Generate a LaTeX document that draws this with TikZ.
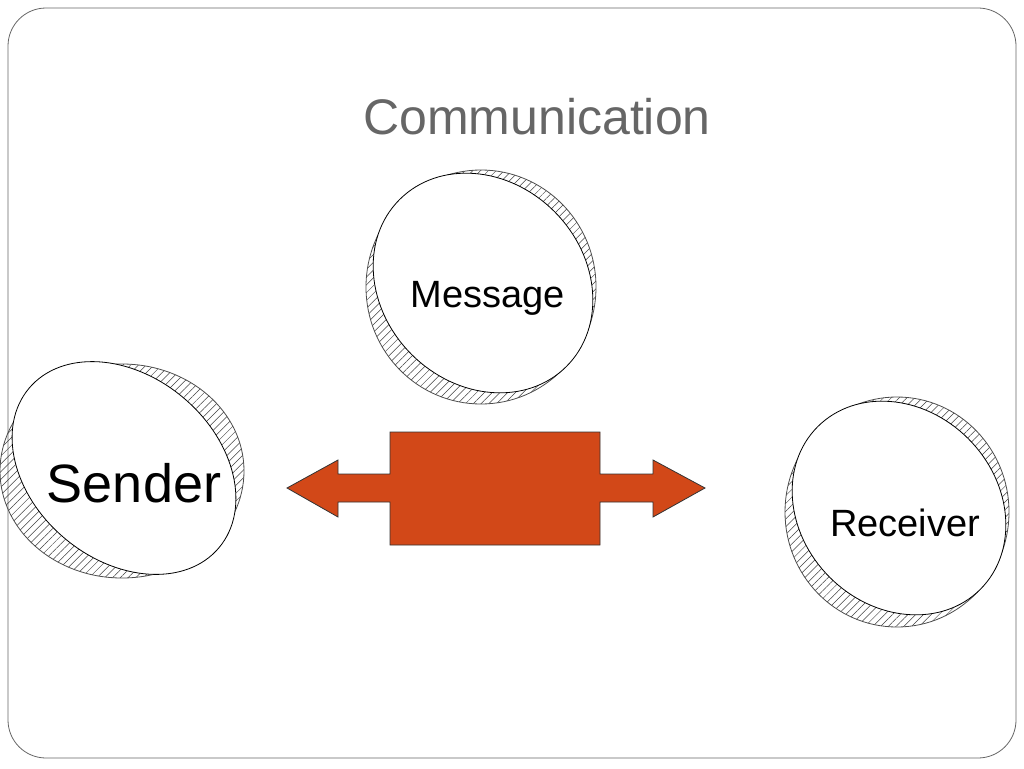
\documentclass[tikz,border=0pt]{standalone}
\usepackage{fontspec}
\setmainfont{Liberation Sans}
\usetikzlibrary{patterns.meta}
\definecolor{arr}{HTML}{D24818}
\definecolor{ttl}{HTML}{666666}
\tikzset{
 hatch/.style={draw=black!70,line width=0.8pt,pattern={Lines[angle=45,distance=5.5pt,line width=0.5pt]},pattern color=black!75},
 inner/.style={draw=black,line width=0.8pt,fill=white},
 lbl/.style={inner sep=0pt,text=black}
}
\begin{document}
\begin{tikzpicture}[x=1pt,y=-1pt]
\useasboundingbox (0,0) rectangle (1024,768);
\draw[black!60,line width=0.8pt,rounded corners=38pt] (8,8) rectangle (1016,758);
\node[text=ttl,font=\fontsize{50}{56}\selectfont] (title) at (537,117) {Communication};
% Message
\path[hatch] (481,287) ellipse [x radius=115,y radius=117];
\path[inner] (483,283) ellipse [x radius=118,y radius=101,rotate=-45];
\node[lbl,font=\fontsize{38}{44}\selectfont] (msg) at (488,298) {Message};
% Sender
\path[hatch] (122,471) ellipse [x radius=122,y radius=107];
\path[inner] (124,468) ellipse [x radius=124,y radius=92,rotate=-40];
\node[lbl,font=\fontsize{54}{60}\selectfont] (snd) at (134,483) {Sender};
% Receiver
\path[hatch] (897,512) ellipse [x radius=112,y radius=115];
\path[inner] (899,508) ellipse [x radius=115,y radius=98,rotate=-45];
\node[lbl,font=\fontsize{38}{44}\selectfont] (rcv) at (905,523) {Receiver};
% double arrow
\draw[fill=arr,draw=black!80,line width=0.8pt] (390,432) -- (600,432) -- (600,474) -- (653,474) -- (653,460) -- (705,488) -- (653,517) -- (653,502) -- (600,502) -- (600,545) -- (390,545) -- (390,502) -- (338,502) -- (338,517) -- (287,488) -- (338,460) -- (338,474) -- (390,474) -- cycle;
\end{tikzpicture}
\end{document}
